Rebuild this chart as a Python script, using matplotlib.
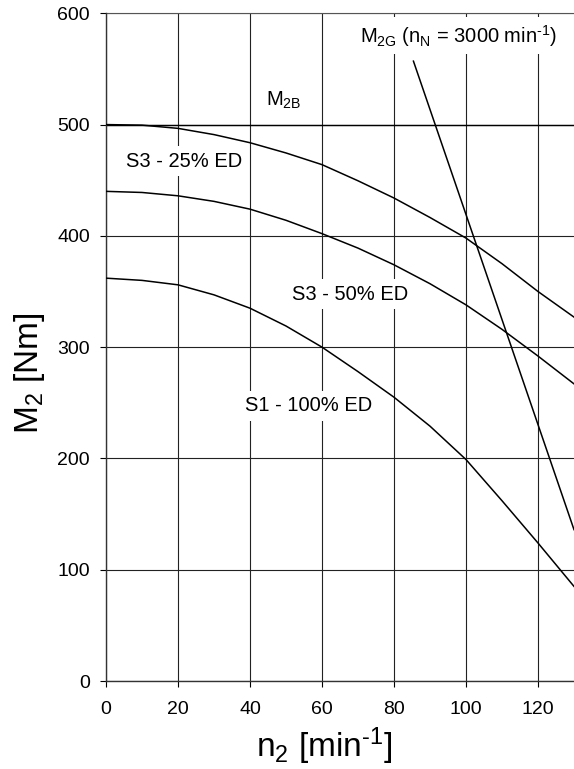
import matplotlib
matplotlib.use("Agg")
import matplotlib.pyplot as plt

plt.rcParams['font.family'] = ['Liberation Sans', 'DejaVu Sans']
plt.rcParams['mathtext.fontset'] = 'custom'
plt.rcParams['mathtext.rm'] = 'Liberation Sans'
plt.rcParams['mathtext.it'] = 'Liberation Sans:italic'
plt.rcParams['mathtext.bf'] = 'Liberation Sans:bold'

# Data
n2 = [0, 10, 20, 30, 40, 50, 60, 70, 80, 90, 100, 110, 120, 130]
s3_25 = [500, 499.5, 496.6, 491, 483.7, 474.5, 464, 449.5, 434, 416.5, 398, 375, 350, 327]
s3_50 = [440, 439, 436, 431, 424, 414, 402, 389, 374, 357, 338, 316, 292, 267]
s1_100 = [362, 360, 356, 347, 335, 319, 300, 278, 255, 229, 199, 162, 124, 85]
m2g_n = [85.4, 130]
m2g_M = [557, 136]
m2b = 500

xticks = [0, 20, 40, 60, 80, 100, 120]
yticks = [0, 100, 200, 300, 400, 500, 600]

fig = plt.figure(figsize=(5.74, 7.69), dpi=100)
ax = fig.add_axes([106/574, (769-681)/769, 1 - 106/574, (681-13.3)/769])

ax.set_xlim(0, 130)
ax.set_ylim(0, 600)
ax.set_xticks(xticks)
ax.set_yticks(yticks)
ax.tick_params(axis='both', direction='out', length=4.5, width=0.8, labelsize=14)
ax.tick_params(axis='y', pad=7)
ax.tick_params(axis='x', pad=10)
ax.grid(True, color='#222222', linewidth=0.8)
ax.set_axisbelow(True)
for s in ['top', 'right']:
    ax.spines[s].set_visible(False)
for s in ['left', 'bottom']:
    ax.spines[s].set_linewidth(1.0)
    ax.spines[s].set_color('#333333')

lw = 1.1
ax.axhline(m2b, color='black', linewidth=1.0, zorder=2)
ax.plot(n2, s3_25, color='black', linewidth=lw, zorder=3)
ax.plot(n2, s3_50, color='black', linewidth=lw, zorder=3)
ax.plot(n2, s1_100, color='black', linewidth=lw, zorder=3)
ax.plot(m2g_n, m2g_M, color='black', linewidth=lw, zorder=3)
ax.plot([0, 130], [600, 600], color='#555555', linewidth=0.8, clip_on=False, zorder=2)

bb = dict(facecolor='white', edgecolor='none', pad=4)
ax.text(49.4, 522, r'M$_{\mathregular{2B}}$', fontsize=14.5, ha='center', va='center', zorder=4)
ax.text(21.8, 467, 'S3 - 25% ED', fontsize=14.5, ha='center', va='center', bbox=bb, zorder=4)
ax.text(67.7, 347.7, 'S3 - 50% ED', fontsize=14.5, ha='center', va='center', bbox=bb, zorder=4)
ax.text(56.2, 247.4, 'S1 - 100% ED', fontsize=14.5, ha='center', va='center', bbox=bb, zorder=4)
ax.text(98, 580, r'M$_{\mathregular{2G}}$ (n$_{\mathregular{N}}$ = 3000 min$^{\mathregular{\text{-}1}}$)',
        fontsize=14.5, ha='center', va='center', bbox=bb, zorder=4)

ax.set_xlabel(r'n$_{\mathregular{2}}$ [min$^{\mathregular{\text{-}1}}$]', fontsize=24)
ax.xaxis.set_label_coords(0.466, -0.066)
ax.set_ylabel(r'M$_{\mathregular{2}}$ [Nm]', fontsize=24)
ax.yaxis.set_label_coords(-0.125, 0.461)

fig.savefig('out.png', dpi=100)
